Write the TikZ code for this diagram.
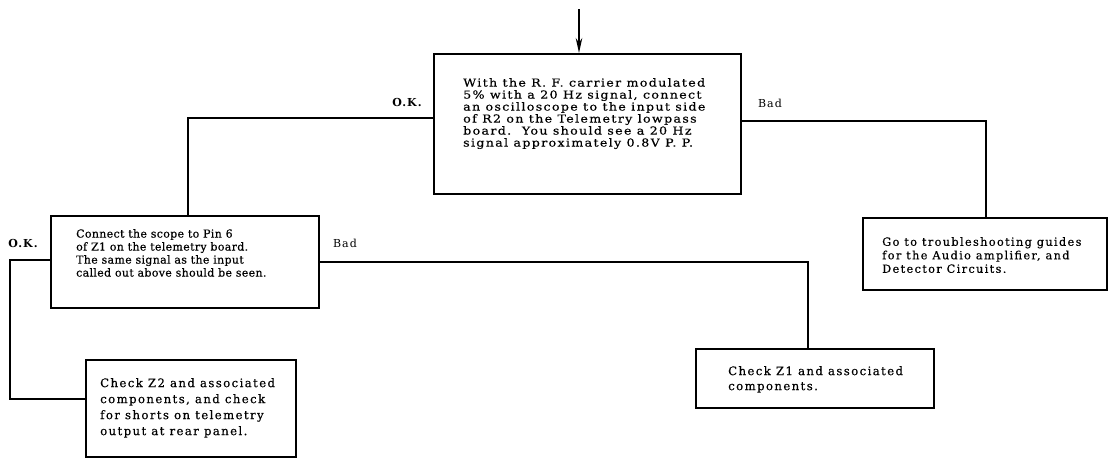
\documentclass[tikz,border=0pt]{standalone}
\usepackage{fontspec}
\setmainfont{DejaVu Serif}
\newfontfamily\boxfont{DejaVu Serif}[LetterSpace=12, FakeBold=0.4]
\newfontfamily\tightfont{DejaVu Serif}[LetterSpace=3, FakeBold=0.4]
\newfontfamily\widefont{DejaVu Serif}[LetterSpace=12, FakeStretch=1.15, FakeBold=0.4]
\newfontfamily\lblfont{DejaVu Serif}[LetterSpace=10]
\usetikzlibrary{arrows.meta}
\tikzset{
  x=1pt, y=-1pt,
  box/.style={draw, line width=2pt, rectangle, inner sep=0pt, anchor=north west},
  txt/.style={anchor=north west, inner sep=0pt, align=left},
  conn/.style={line width=2pt},
  arr/.style={line width=2pt, -{Stealth[length=15pt, width=6.5pt]}},
  lbl/.style={inner sep=0pt, font=\lblfont\fontsize{11}{13}\selectfont},
  oklbl/.style={inner sep=0pt, font=\lblfont\bfseries\fontsize{11}{13}\selectfont}
}
\begin{document}
\begin{tikzpicture}
\useasboundingbox (0,0) rectangle (1108,458);
% boxes
\node[box, minimum width=307pt, minimum height=140pt] (b1) at (433,53) {};
\node[box, minimum width=268pt, minimum height=92pt] (b2) at (50,215) {};
\node[box, minimum width=244pt, minimum height=72pt] (b3) at (862,217) {};
\node[box, minimum width=238pt, minimum height=59pt] (b4) at (695,348) {};
\node[box, minimum width=210pt, minimum height=97pt] (b5) at (85,359) {};
% texts
\node[txt, font=\widefont\fontsize{11}{12}\selectfont] (t1) at (463,78) {With the R. F. carrier modulated\\5\% with a 20 Hz signal, connect\\an oscilloscope to the input side\\of R2 on the Telemetry lowpass\\board.\ \ You should see a 20 Hz\\signal approximately 0.8V P. P.};
\node[txt, font=\tightfont\fontsize{11}{13}\selectfont] (t2) at (76,229) {Connect the scope to Pin 6\\of Z1 on the telemetry board.\\The same signal as the input\\called out above should be seen.};
\node[txt, font=\boxfont\fontsize{11.3}{13.5}\selectfont] (t3) at (882,237) {Go to troubleshooting guides\\for the Audio amplifier, and\\Detector Circuits.};
\node[txt, font=\boxfont\fontsize{11.7}{15}\selectfont] (t4) at (728,366) {Check Z1 and associated\\components.};
\node[txt, font=\boxfont\fontsize{11.7}{16}\selectfont] (t5) at (100,378) {Check Z2 and associated\\components, and check\\for shorts on telemetry\\output at rear panel.};
% labels
\node[oklbl] (l1) at (407,102) {O.K.};
\node[lbl] (l2) at (770,103) {Bad};
\node[oklbl] (l3) at (23,243) {O.K.};
\node[lbl] (l4) at (345,243) {Bad};
% junction coordinates
\coordinate (top) at (579,9);
\coordinate (j1) at (188,118);
\coordinate (j2) at (986,121);
\coordinate (j3) at (808,262);
\coordinate (j4) at (10,260);
\coordinate (j5) at (10,399);
% connectors
\draw[arr] (top) -- (top |- b1.north);
\draw[conn] (b1.west |- j1) -| (j1 |- b2.north);
\draw[conn] (b1.east |- j2) -| (j2 |- b3.north);
\draw[conn] (b2.east |- j3) -| (j3 |- b4.north);
\draw[conn] (b2.west |- j4) -| (j5) -- (b5.west |- j5);
\end{tikzpicture}
\end{document}
